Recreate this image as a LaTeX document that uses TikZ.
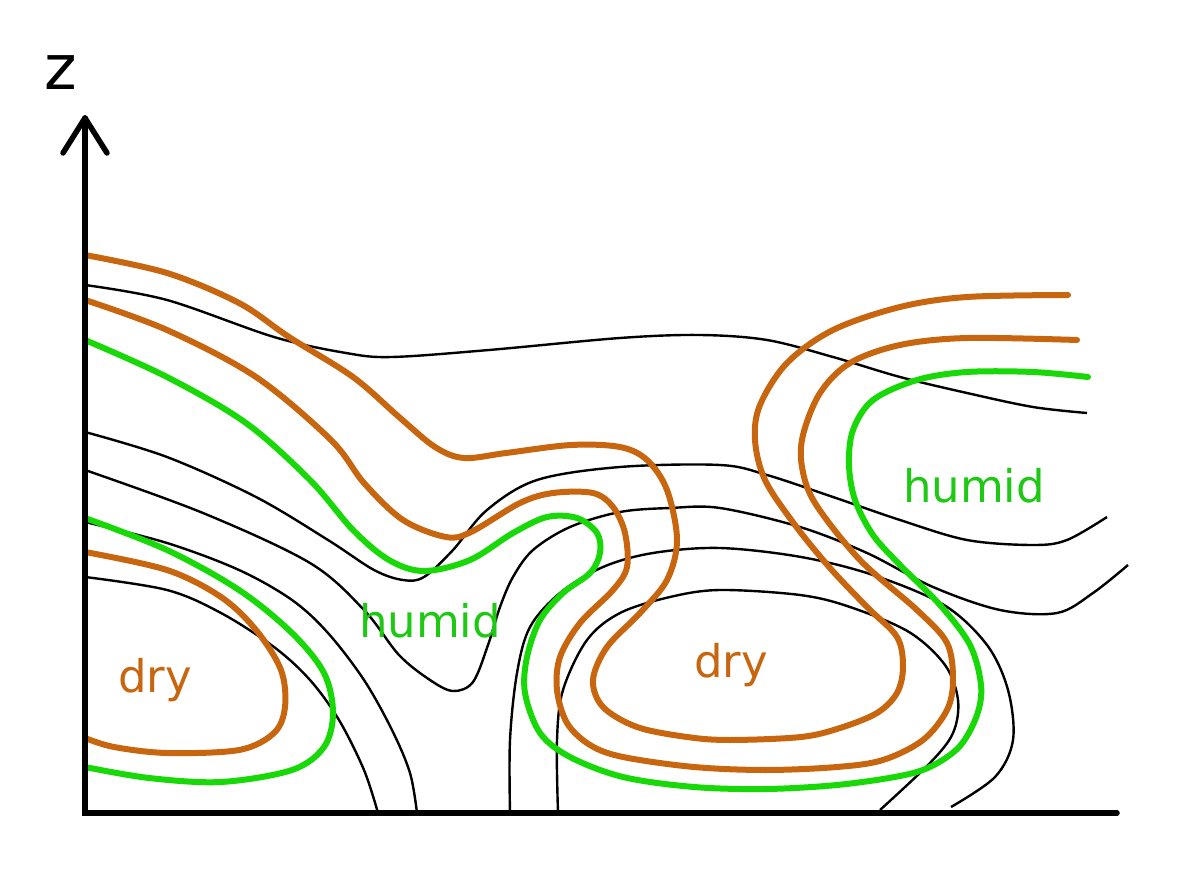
\documentclass[tikz,border=0pt]{standalone}
\usepackage{fontspec}
\setmainfont{DejaVu Sans}
\definecolor{dryc}{RGB}{200,102,16}
\definecolor{humc}{RGB}{24,216,8}
\definecolor{humtext}{RGB}{30,200,20}
\tikzset{
  thinline/.style={draw=black,line width=2.4pt},
  dryline/.style={draw=dryc,line width=6pt,line cap=round},
  humline/.style={draw=humc,line width=6pt,line cap=round},
  axisline/.style={draw=black,line width=5.5pt},
  lbl/.style={font=\fontsize{45}{54}\selectfont,inner sep=0pt,anchor=base}
}
\begin{document}
\begin{tikzpicture}[x=1pt,y=-1pt]
\useasboundingbox (0,0) rectangle (1200,890);
% black isolines
\draw[thinline] plot[smooth,tension=0.55] coordinates {(85,285) (167,300) (274,337) (346,353) (392,357) (489,350) (620,338) (700,335) (767,340) (833,357) (900,377) (967,393) (1033,407) (1087,413)};
\draw[thinline] plot[smooth,tension=0.55] coordinates {(85,432) (167,457) (256,497) (328,540) (374,570) (403,580) (424,577) (453,550) (487,510) (537,480) (620,467) (720,465) (767,475) (833,497) (900,520) (967,540) (1033,545) (1067,540) (1107,517)};
\draw[thinline] plot[smooth,tension=0.55] coordinates {(85,470) (203,513) (310,563) (364,610) (399,655) (430,680) (453,691) (473,682) (488,645) (500,607) (513,577) (533,550) (570,527) (620,512) (670,508) (720,508) (800,527) (867,553) (933,587) (1000,610) (1057,613) (1093,593) (1128,565)};
\draw[thinline] plot[smooth,tension=0.55] coordinates {(85,522) (167,543) (239,570) (292,600) (328,633) (364,680) (392,730) (410,773) (417,813)};
\draw[thinline] plot[smooth,tension=0.55] coordinates {(85,577) (167,590) (221,613) (274,647) (310,680) (339,720) (364,770) (378,813)};
\draw[thinline] plot[smooth,tension=0.55] coordinates {(510,813) (510,740) (517,673) (530,627) (560,593) (603,567) (653,553) (720,548) (801,557) (873,575) (944,605) (987,645) (1008,690) (1013,740) (995,777) (951,807)};
\draw[thinline] plot[smooth,tension=0.55] coordinates {(558,813) (557,740) (563,690) (587,640) (620,613) (670,597) (720,590) (800,595) (850,607) (909,632) (945,665) (958,700) (953,733) (930,763) (880,810)};
% dry (orange) isolines
\draw[dryline] plot[smooth,tension=0.55] coordinates {(85,255) (167,273) (239,303) (289,337) (353,377) (399,417) (435,447) (464,458) (506,453) (571,445) (620,447) (647,460) (667,490) (677,540) (667,580) (640,613) (607,647) (593,680) (603,707) (637,727) (687,737) (730,740) (801,737) (840,728) (877,713) (897,693) (903,667) (897,637) (867,607) (830,568) (795,525) (765,480) (755,440) (760,405) (787,363) (833,330) (900,307) (967,297) (1068,295)};
\draw[dryline] plot[smooth,tension=0.55] coordinates {(85,300) (167,330) (256,377) (331,440) (364,483) (403,520) (446,537) (471,532) (520,503) (553,493) (593,493) (613,507) (625,533) (627,567) (613,590) (580,623) (560,657) (557,690) (567,723) (590,745) (623,757) (694,767) (766,770) (837,767) (883,760) (923,740) (947,710) (953,680) (947,643) (917,610) (860,560) (815,503) (802,467) (803,435) (820,393) (850,363) (900,345) (967,338) (1077,340)};
\draw[dryline] plot[smooth,tension=0.55] coordinates {(85,552) (167,570) (221,597) (256,630) (281,670) (285,707) (274,733) (239,750) (167,753) (114,747) (85,738)};
% humid (green) isolines
\draw[humline] plot[smooth,tension=0.55] coordinates {(85,340) (167,377) (246,423) (310,480) (353,530) (389,560) (424,571) (470,560) (513,533) (547,517) (577,518) (597,533) (600,553) (590,573) (563,593) (540,620) (527,657) (525,693) (540,733) (570,757) (623,777) (694,787) (766,789) (837,785) (900,776) (932,766) (960,746) (977,715) (981,685) (970,645) (940,605) (900,565) (873,535) (855,500) (849,465) (853,430) (873,400) (917,380) (967,372) (1033,372) (1088,377)};
\draw[humline] plot[smooth,tension=0.55] coordinates {(85,518) (167,550) (239,590) (292,633) (324,673) (333,713) (324,747) (292,770) (221,782) (149,778) (85,767)};
% axes
\draw[axisline,line join=miter,line cap=round] (85,118) -- (85,813) -- (1117,813);
\draw[axisline,line join=round,line cap=round] (63,153) -- (85,118) -- (107,153);
\node[font=\fontsize{62}{70}\selectfont,inner sep=0pt,anchor=base] (zlab) at (61,90) {z};
% labels
\node[lbl,text=dryc] (dryL) at (155,692) {dry};
\node[lbl,text=dryc] (dryR) at (731,677) {dry};
\node[lbl,text=humtext] (humM) at (430,637) {humid};
\node[lbl,text=humtext] (humR) at (974,502) {humid};
\end{tikzpicture}
\end{document}
